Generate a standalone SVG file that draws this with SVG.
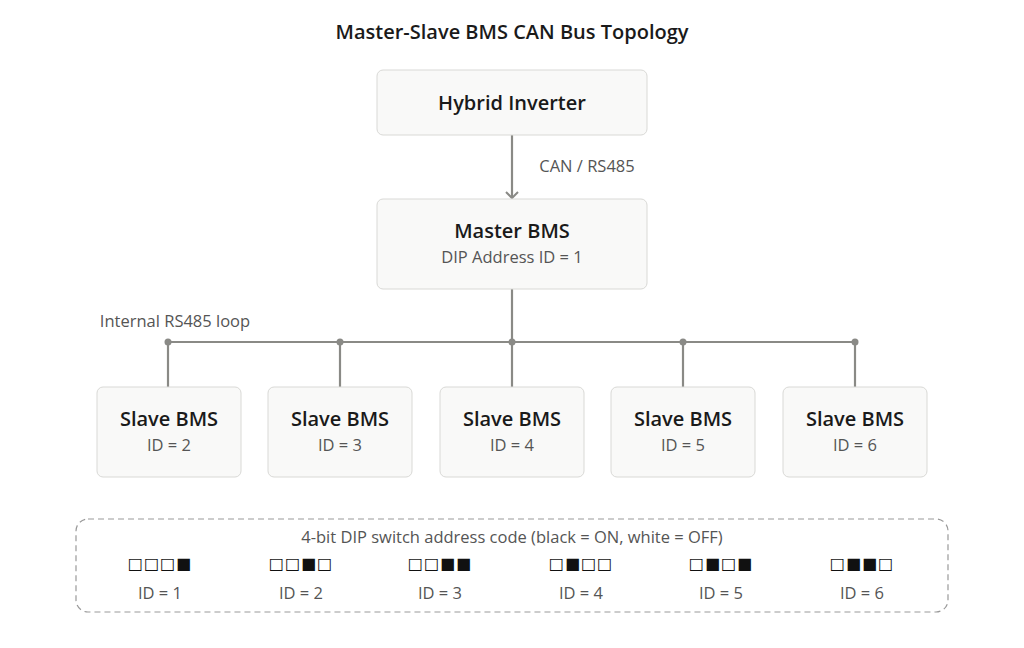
<svg xmlns="http://www.w3.org/2000/svg" width="1024" height="648" viewBox="0 0 1024 648">
<style>
text{font-family:"Open Sans","Noto Sans","Liberation Sans",sans-serif;text-anchor:middle}
.box{fill:#f9f9f8;stroke:#d9d9d6;stroke-width:1}
.t{font-size:20px;font-weight:600;fill:#1a1a1a}
.s{font-size:16.5px;fill:#555}
.ln{stroke:#8a8a86;stroke-width:2.2;fill:none}
.dip{font-family:"DejaVu Sans",sans-serif;font-size:16px;fill:#111;letter-spacing:1px}
</style>
<defs><marker id="a" markerWidth="14" markerHeight="14" refX="7" refY="7" orient="auto" markerUnits="userSpaceOnUse"><path d="M1,1 L7,7 L1,13" fill="none" stroke="#8a8a86" stroke-width="2"/></marker></defs>
<rect width="1024" height="648" fill="#fff"/>
<text x="512" y="39" style="font-size:20px;font-weight:600;fill:#1a1a1a">Master-Slave BMS CAN Bus Topology</text>
<g id="connectors">
<line class="ln" x1="512" y1="135" x2="512" y2="198" marker-end="url(#a)"/>
<text class="s" x="587" y="172">CAN / RS485</text>
<line class="ln" x1="512" y1="289" x2="512" y2="387"/>
<line class="ln" x1="168" y1="342" x2="855" y2="342"/>
<line class="ln" x1="168" y1="342" x2="168" y2="387"/>
<line class="ln" x1="340" y1="342" x2="340" y2="387"/>
<line class="ln" x1="683" y1="342" x2="683" y2="387"/>
<line class="ln" x1="855" y1="342" x2="855" y2="387"/>
<g fill="#8a8a86"><circle cx="168" cy="342" r="3.5"/><circle cx="340" cy="342" r="3.5"/><circle cx="512" cy="342" r="3.5"/><circle cx="683" cy="342" r="3.5"/><circle cx="855" cy="342" r="3.5"/></g>
<text class="s" x="175" y="327">Internal RS485 loop</text>
</g>
<g id="inverter"><rect class="box" x="377" y="70" width="270" height="65" rx="6"/><text class="t" x="512" y="110">Hybrid Inverter</text></g>
<g id="master"><rect class="box" x="377" y="199" width="270" height="90" rx="6"/><text class="t" x="512" y="238">Master BMS</text><text class="s" x="512" y="263">DIP Address ID = 1</text></g>
<g id="slave2"><rect class="box" x="97" y="387" width="144" height="90" rx="6"/><text class="t" x="169" y="426">Slave BMS</text><text class="s" x="169" y="451">ID = 2</text></g>
<g id="slave3"><rect class="box" x="268" y="387" width="144" height="90" rx="6"/><text class="t" x="340" y="426">Slave BMS</text><text class="s" x="340" y="451">ID = 3</text></g>
<g id="slave4"><rect class="box" x="440" y="387" width="144" height="90" rx="6"/><text class="t" x="512" y="426">Slave BMS</text><text class="s" x="512" y="451">ID = 4</text></g>
<g id="slave5"><rect class="box" x="611" y="387" width="144" height="90" rx="6"/><text class="t" x="683" y="426">Slave BMS</text><text class="s" x="683" y="451">ID = 5</text></g>
<g id="slave6"><rect class="box" x="783" y="387" width="144" height="90" rx="6"/><text class="t" x="855" y="426">Slave BMS</text><text class="s" x="855" y="451">ID = 6</text></g>
<g id="legend">
<rect x="76" y="519" width="872" height="93" rx="12" fill="none" stroke="#999" stroke-width="1.2" stroke-dasharray="6,4"/>
<text class="s" x="512" y="543">4-bit DIP switch address code (black = ON, white = OFF)</text>
<text class="dip" x="160" y="569">□□□■</text><text class="s" x="160" y="599">ID = 1</text>
<text class="dip" x="301" y="569">□□■□</text><text class="s" x="301" y="599">ID = 2</text>
<text class="dip" x="440" y="569">□□■■</text><text class="s" x="440" y="599">ID = 3</text>
<text class="dip" x="581" y="569">□■□□</text><text class="s" x="581" y="599">ID = 4</text>
<text class="dip" x="721" y="569">□■□■</text><text class="s" x="721" y="599">ID = 5</text>
<text class="dip" x="862" y="569">□■■□</text><text class="s" x="862" y="599">ID = 6</text>
</g>
</svg>
